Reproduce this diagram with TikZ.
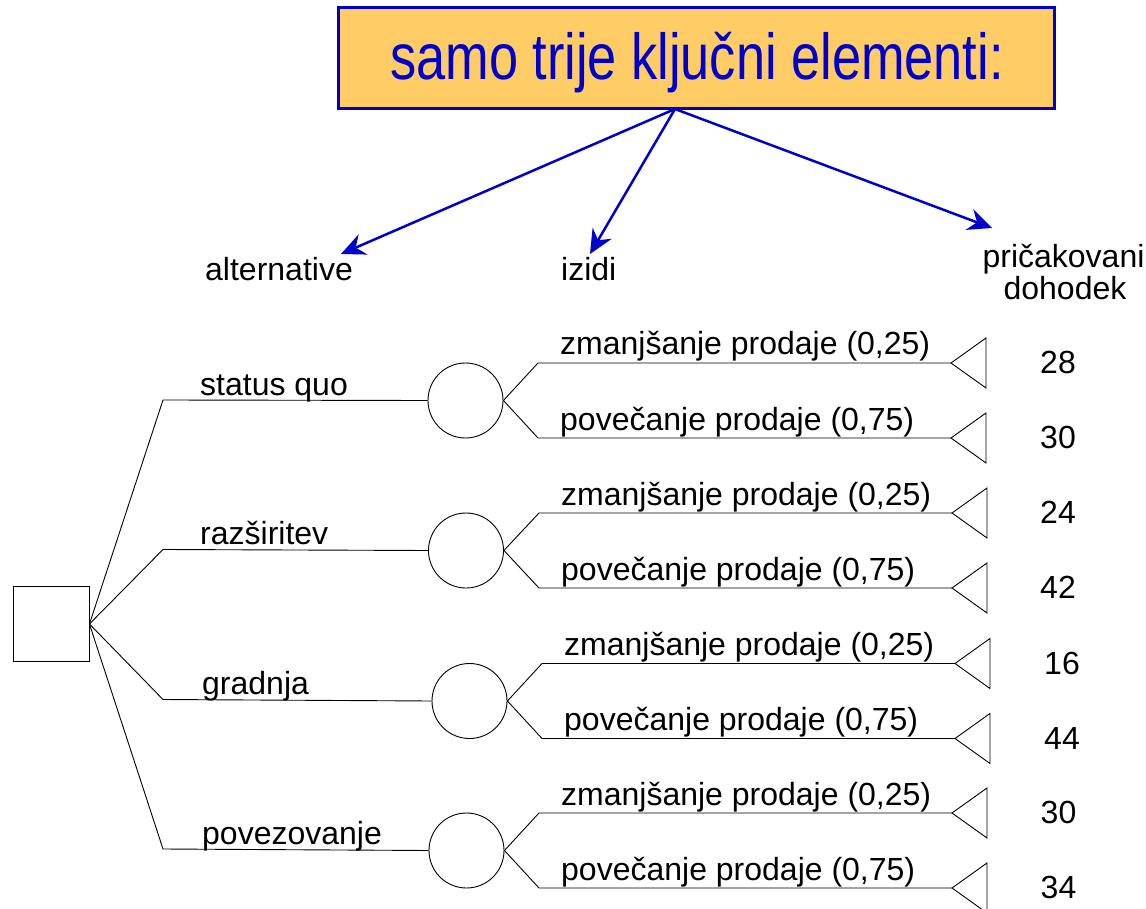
\documentclass[tikz,border=0pt]{standalone}
\usepackage{fontspec}
\setmainfont{Liberation Sans}
\usetikzlibrary{arrows.meta}
\definecolor{tblue}{RGB}{0,0,204}
\definecolor{tfill}{RGB}{255,204,102}
\begin{document}
\begin{tikzpicture}[x=1pt,y=-1pt,
  txt/.style={font=\fontsize{32}{38}\selectfont, inner sep=0pt, text=black},
  ln/.style={draw=black, line width=0.9pt},
  chance/.style={circle, draw=black, line width=0.9pt, minimum size=75pt, inner sep=0pt},
  decision/.style={rectangle, draw=black, line width=0.9pt, minimum width=76pt, minimum height=75pt, inner sep=0pt},
  arr/.style={draw=tblue, line width=2.5pt, -{Stealth[length=24pt,width=22pt,inset=8pt]}},
  titlebox/.style={draw=tblue, line width=2.2pt, fill=tfill, minimum width=716pt, minimum height=101pt, inner sep=0pt}
]
\useasboundingbox (0,0) rectangle (1146,909);

% title
\node[titlebox] (title) at (696.5,58) {};
\node[anchor=base, inner sep=0pt, text=tblue] (titletext) at (697,80)
  {\scalebox{0.805}[1]{\fontsize{65}{78}\selectfont samo trije ključni elementi:}};

% headers
\node[txt, anchor=base west] (hAlt) at (205,281) {alternative};
\node[txt, anchor=base west] (hIz) at (561,281) {izidi};
\node[txt, anchor=base] (hPr1) at (1063.5,268) {pričakovani};
\node[txt, anchor=base] (hPr2) at (1065,300) {dohodek};

% arrows
\coordinate (src) at (675,109);
\coordinate (tA) at (341,254);
\coordinate (tI) at (590,254);
\coordinate (tP) at (992,228);
\draw[arr] (src) -- (tA);
\draw[arr] (src) -- (tI);
\draw[arr] (src) -- (tP);

% decision node
\node[decision] (dec) at (51,624) {};

% chance nodes and outcomes
\foreach \i/\cx/\cy/\bx/\tx/\vx/\va/\vb in {
  1/465.5/400.5/538/951/1058/28/30,
  2/466/550.5/539/952/1058/24/42,
  3/469.5/701/542/955/1062/16/44,
  4/466.5/850.5/539/952/1058.5/30/34}{
  \node[chance] (c\i) at (\cx,\cy) {};
  \coordinate (u\i) at (\bx,\cy-37.5);
  \coordinate (l\i) at (\bx,\cy+37.5);
  \coordinate (tu\i) at (\tx,\cy-37.5);
  \coordinate (tl\i) at (\tx,\cy+37.5);
  \draw[ln] (c\i.east) -- (u\i) -- (tu\i);
  \draw[ln] (c\i.east) -- (l\i) -- (tl\i);
  \draw[ln] (tu\i) -- ++(35,-25) -- ++(0,50) -- cycle;
  \draw[ln] (tl\i) -- ++(35,-25) -- ++(0,50) -- cycle;
  \node[txt, anchor=base west] (zu\i) at (\bx+22,\cy-45.5) {zmanjšanje prodaje (0,25)};
  \node[txt, anchor=base west] (zl\i) at (\bx+22,\cy+29.5) {povečanje prodaje (0,75)};
  \node[txt, anchor=base] (vu\i) at (\vx,\cy-27) {\va};
  \node[txt, anchor=base] (vl\i) at (\vx,\cy+48) {\vb};
}

% alternatives
\foreach \i/\ey/\lx/\lab in {1/400/200/status quo, 2/549.5/200/razširitev, 3/699.5/202/gradnja, 4/849/202/povezovanje}{
  \coordinate (e\i) at (163,\ey);
  \draw[ln] (dec.east) -- (e\i) -- (c\i.west);
  \node[txt, anchor=base west] (a\i) at (\lx,\ey-5) {\lab};
}
\end{tikzpicture}
\end{document}
